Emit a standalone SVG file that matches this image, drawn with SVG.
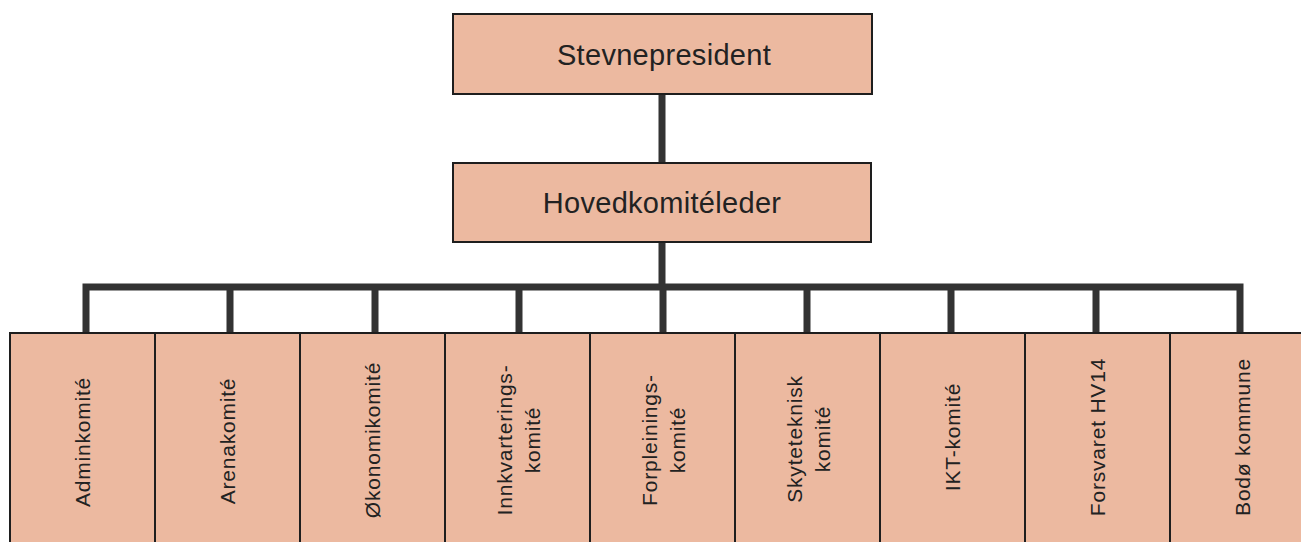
<svg xmlns="http://www.w3.org/2000/svg" width="1301" height="542" viewBox="0 0 1301 542">
<style>
.box{fill:#ECB9A0;stroke:#1e1e1e;stroke-width:2}
.top{font-family:"Liberation Sans",Arial,sans-serif;font-size:29px;letter-spacing:0.3px;fill:#222;text-anchor:middle}
.lbl{font-family:"Liberation Sans",Arial,sans-serif;font-size:21px;letter-spacing:0.8px;fill:#222;text-anchor:middle}
.con{fill:none;stroke:#333;stroke-width:7;stroke-linejoin:miter}
</style>
<rect width="1301" height="542" fill="#ffffff"/>
<g id="connectors">
<path class="con" d="M662,94 V163 M662,242 V287 M86,334 V287 H1240 V334 M230,287 V334 M375,287 V334 M519,287 V334 M663,287 V334 M807,287 V334 M951,287 V334 M1096,287 V334"/>
</g>
<g id="stevnepresident">
<rect class="box" x="453" y="14" width="419" height="80"/>
<text class="top" x="664" y="65">Stevnepresident</text>
</g>
<g id="hovedkomiteleder">
<rect class="box" x="453" y="163" width="418" height="79"/>
<text class="top" x="662" y="213">Hovedkomitéleder</text>
</g>
<g id="adminkomite">
<rect class="box" x="10" y="333" width="145" height="220"/>
<text class="lbl" transform="translate(90,442) rotate(-90)">Adminkomité</text>
</g>
<g id="arenakomite">
<rect class="box" x="155" y="333" width="145" height="220"/>
<text class="lbl" transform="translate(235,441) rotate(-90)">Arenakomité</text>
</g>
<g id="okonomikomite">
<rect class="box" x="300" y="333" width="145" height="220"/>
<text class="lbl" transform="translate(380,440) rotate(-90)">Økonomikomité</text>
</g>
<g id="innkvarteringskomite">
<rect class="box" x="445" y="333" width="145" height="220"/>
<text class="lbl" transform="translate(511.5,440) rotate(-90)"><tspan x="0" y="0">Innkvarterings-</tspan><tspan x="0" y="28">komité</tspan></text>
</g>
<g id="forpleiningskomite">
<rect class="box" x="590" y="333" width="145" height="220"/>
<text class="lbl" transform="translate(656.5,440) rotate(-90)"><tspan x="0" y="0">Forpleinings-</tspan><tspan x="0" y="28">komité</tspan></text>
</g>
<g id="skyteteknisk">
<rect class="box" x="735" y="333" width="145" height="220"/>
<text class="lbl" transform="translate(801.5,439) rotate(-90)"><tspan x="0" y="0">Skyteteknisk</tspan><tspan x="0" y="28">komité</tspan></text>
</g>
<g id="iktkomite">
<rect class="box" x="880" y="333" width="145" height="220"/>
<text class="lbl" transform="translate(960,437) rotate(-90)">IKT-komité</text>
</g>
<g id="forsvaret">
<rect class="box" x="1025" y="333" width="145" height="220"/>
<text class="lbl" transform="translate(1105,437) rotate(-90)">Forsvaret HV14</text>
</g>
<g id="bodo">
<rect class="box" x="1170" y="333" width="145" height="220"/>
<text class="lbl" transform="translate(1250,437) rotate(-90)">Bodø kommune</text>
</g>
</svg>
